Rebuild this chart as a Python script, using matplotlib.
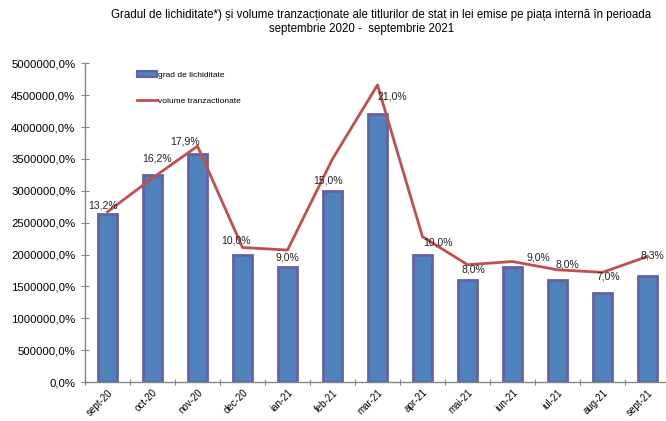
import matplotlib
matplotlib.use("Agg")
import matplotlib.pyplot as plt
from matplotlib.ticker import FuncFormatter
from matplotlib.patches import Patch
from matplotlib.lines import Line2D

plt.rcParams['font.family'] = ['Liberation Sans', 'DejaVu Sans']

months = ['sept-20', 'oct-20', 'nov-20', 'dec-20', 'ian-21', 'feb-21', 'mar-21',
          'apr-21', 'mai-21', 'iun-21', 'iul-21', 'aug-21', 'sept-21']
lichiditate_pct = [13.2, 16.2, 17.9, 10.0, 9.0, 15.0, 21.0, 10.0, 8.0, 9.0, 8.0, 7.0, 8.3]
bar_scale = 200000  # bar height = percentage * scale on the chart's axis
volume = [2670000, 3200000, 3700000, 2110000, 2070000, 3500000, 4660000,
          2280000, 1840000, 1890000, 1760000, 1720000, 1970000]
label_texts = ['13,2%', '16,2%', '17,9%', '10,0%', '9,0%', '15,0%', '21,0%',
               '10,0%', '8,0%', '9,0%', '8,0%', '7,0%', '8,3%']
# label offsets in pixels (dx, dy) relative to bar top
label_offsets = [(-4, 8), (5, 17), (-12, 12), (-7, 14), (0, 10), (-5, 10), (15, 18),
                 (15, 12), (6, 11), (26, 10), (10, 16), (6, 16), (5, 21)]

fig = plt.figure(figsize=(6.66, 4.21), dpi=100)
ax = fig.add_axes([85/666, 1-382/421, 585/666, (382-63.3)/421])

x = list(range(len(months)))
bar_heights = [v * bar_scale for v in lichiditate_pct]
ax.bar(x, bar_heights, width=0.44, color='#4F81BD', edgecolor='#6462A6', linewidth=2, zorder=2)
ax.plot(x, volume, color='#C0504D', linewidth=2, zorder=3)

for xi, h, t, (dx, dy) in zip(x, bar_heights, label_texts, label_offsets):
    ax.annotate(t, (xi, h), xytext=(dx, dy), textcoords='offset pixels',
                ha='center', va='center', fontsize=7.5, color='#222222', zorder=4)

ax.set_xlim(-0.5, len(months) - 0.5)
ax.set_ylim(0, 5000000)
ax.set_yticks(range(0, 5000001, 500000))
ax.yaxis.set_major_formatter(FuncFormatter(lambda v, p: f"{v:.1f}".replace('.', ',') + '%'))
ax.set_xticks([i - 0.5 for i in range(len(months) + 1)])
ax.set_xticklabels([])
ax.set_xticks(x, minor=True)
ax.set_xticklabels(months, minor=True, rotation=45, ha='right', rotation_mode='anchor', fontsize=7)
ax.tick_params(axis='x', which='minor', length=0, pad=4)
ax.tick_params(axis='x', which='major', direction='inout', length=5, color='#868686')
ax.tick_params(axis='y', direction='inout', length=6, color='#868686', labelsize=8.2, pad=4)

for s in ['top', 'right']:
    ax.spines[s].set_visible(False)
for s in ['left', 'bottom']:
    ax.spines[s].set_color('#868686')
    ax.spines[s].set_linewidth(1)

handles = [Patch(facecolor='#4F81BD', edgecolor='#6462A6', linewidth=1.5),
           Line2D([0], [0], color='#C0504D', linewidth=2)]
ax.legend(handles, ['grad de lichiditate', 'volume tranzactionate'], loc='upper left',
          bbox_to_anchor=(0.076, 1.0), frameon=False, fontsize=6, handlelength=2.4,
          handleheight=0.7, handletextpad=0.1, labelspacing=2.2)

fig.text(381/666, 1-15/421, 'Gradul de lichiditate*) și volume tranzacționate ale titlurilor de stat in lei emise pe piața internă în perioada',
         ha='center', va='center', fontsize=8.3)
fig.text(362/666, 1-29/421, 'septembrie 2020 -  septembrie 2021', ha='center', va='center', fontsize=8.3)

fig.savefig('out.png', dpi=100)
